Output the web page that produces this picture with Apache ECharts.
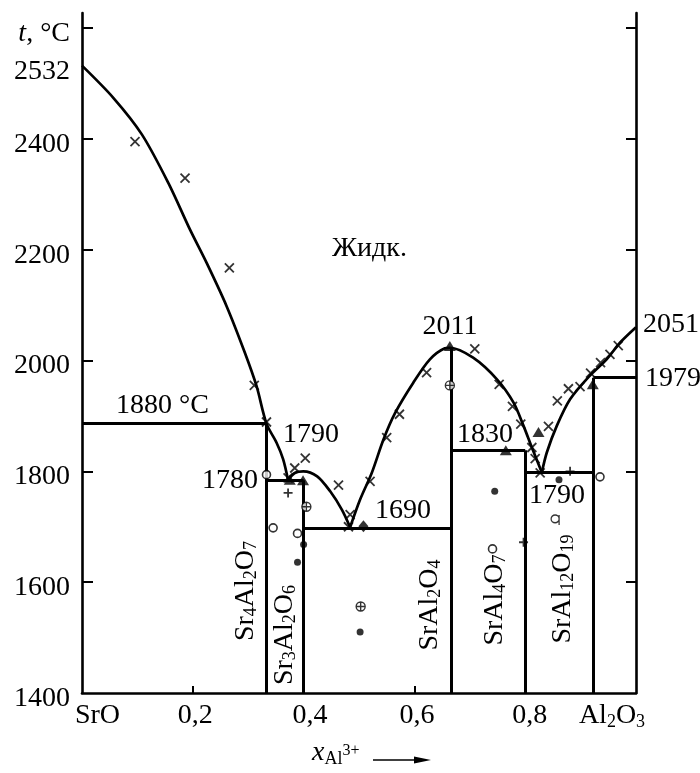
<!DOCTYPE html>
<html><head><meta charset="utf-8">
<script src="https://cdn.jsdelivr.net/npm/echarts@6/dist/echarts.min.js"></script>
<style>html,body{margin:0;padding:0;background:#fff}#c{width:700px;height:773px}</style>
</head><body><div id="c"></div>
<script>
// ---------- DATA (x = mole fraction of Al3+, t in °C) ----------
const liquidusSrO = [[0,2532],[0.0565,2474],[0.108,2408],[0.156,2320],[0.195,2236],[0.225,2176],[0.261,2098],[0.294,2014],[0.315,1954],[0.333,1886],[0.351,1852],[0.363,1822],[0.372,1784]];
const liquidusSr3Al2O6 = [[0.372,1784],[0.384,1797],[0.3995,1800],[0.4245,1791],[0.448,1764],[0.469,1731],[0.484,1699]];
const liquidusSrAl2O4 = [[0.484,1699],[0.502,1749],[0.523,1797],[0.544,1857],[0.565,1905],[0.598,1960],[0.628,2002],[0.655,2022],[0.664,2023],[0.706,2005],[0.749,1966],[0.779,1924],[0.797,1882],[0.812,1843],[0.830,1798]];
const liquidusAl2O3 = [[0.830,1798],[0.839,1834],[0.857,1882],[0.881,1930],[0.916,1972],[0.947,2002],[0.971,2032],[1.0,2060]];

// compounds: x position and top temperature of the vertical line
const compoundNames = ['Sr4Al2O7','Sr3Al2O6','SrAl2O4','SrAl4O7','SrAl12O19'];
const compoundX = [0.3333, 0.4, 0.6667, 0.8, 0.9231];
const compoundTop = [1886, 1784, 2023, 1838, 1969];
// invariant horizontals: [xFrom, xTo, t]
const isotherms = [[0,0.3333,1886],[0.3333,0.4,1784],[0.4,0.6667,1698],[0.6667,0.8,1838],[0.8,0.9231,1799],[0.9231,1,1969]];

// experimental points
const crossPts = [[0.0957,2395],[0.186,2329],[0.266,2167],[0.311,1955],[0.333,1889],[0.372,1788],[0.384,1806],[0.403,1824],[0.463,1775],[0.484,1722],[0.481,1700],[0.520,1782],[0.550,1861],[0.573,1903],[0.622,1978],[0.709,2021],[0.753,1957],[0.777,1917],[0.792,1885],[0.812,1843],[0.818,1823],[0.827,1797],[0.842,1881],[0.858,1927],[0.878,1949],[0.899,1953],[0.918,1977],[0.936,1996],[0.953,2011],[0.968,2027]];
const trianglePts = [[0.375,1785],[0.399,1784],[0.664,2026],[0.765,1838],[0.824,1871],[0.922,1957]];
const diamondPts = [[0.508,1701]];
const plusPts = [[0.372,1761],[0.797,1672],[0.881,1800]];
const dotPts = [[0.400,1668],[0.389,1636],[0.502,1510],[0.745,1764],[0.861,1785]];
const ringPts = [[0.333,1794],[0.345,1698],[0.389,1688],[0.741,1660],[0.935,1790]];
const oplusPts = [[0.405,1736],[0.503,1556],[0.664,1955]];
const ringTickPts = [[0.854,1712]];

// axis ticks / labels
const xTickValues = [0.2,0.4,0.6,0.8];
const xLabelValues = [0,0.2,0.4,0.6,0.8,1];
const xLabelTexts = ['SrO','0,2','0,4','0,6','0,8','Al2O3'];
const yTickValues = [1600,1800,2000,2200,2400,2600];
const yLabelValues = [1400,1600,1800,2000,2200,2400,2532,2600];

// ---------- CHART ----------
const FONT = 'Liberation Serif, Times New Roman, serif';
const K = '#000';
const FS = 28;
const RICH = {
  n: {fontFamily: FONT, fontSize: FS, color: K, lineHeight: 29, verticalAlign: 'top'},
  s: {fontFamily: FONT, fontSize: 18, color: K, lineHeight: 18, padding: [15,0,0,0], verticalAlign: 'bottom'},
  i: {fontFamily: FONT, fontSize: FS, fontStyle: 'italic', color: K, lineHeight: 29, verticalAlign: 'top'},
  sb: {fontFamily: FONT, fontSize: 18, color: K, lineHeight: 18, padding: [19,0,0,0], verticalAlign: 'bottom'},
  sp: {fontFamily: FONT, fontSize: 16, color: K, lineHeight: 16, padding: [4,0,0,0], verticalAlign: 'top'}
};
const YRICH = {
  n: Object.assign({}, RICH.n, {padding: [6,0,0,0]}),
  i: Object.assign({}, RICH.i, {padding: [6,0,0,0]})
};
function chem(str) {
  return str.replace(/([A-Za-z]+|\d+)/g, m => /\d/.test(m) ? '{s|' + m + '}' : '{n|' + m + '}');
}
const xLabelShift = [31, 5, 13, 5, 9, -48];

const phaseSegments = [];
isotherms.forEach(s => phaseSegments.push({coords: [[s[0], s[2]], [s[1], s[2]]]}));
compoundX.forEach((x, i) => phaseSegments.push({coords: [[x, compoundTop[i]], [x, 1400]]}));

function gText(x, y, text, align, vAlign, rotation) {
  return {type: 'text', x: x, y: y, rotation: rotation || 0, silent: true, z: 20,
    style: {text: text, fill: K, font: FS + 'px ' + FONT, align: align, verticalAlign: vAlign, rich: RICH}};
}

const xRich = Object.assign({}, RICH);
xLabelValues.forEach((v, i) => { xRich['p' + i] = {width: Math.abs(xLabelShift[i]), fontSize: 10, lineHeight: 29, verticalAlign: 'top'}; });

const chart = echarts.init(document.getElementById('c'), null, {renderer: 'canvas'});
const yAxisBase = {
  type: 'value', min: 1400, max: 2627,
  axisLine: {show: true, onZero: false, lineStyle: {color: K, width: 2.6}},
  axisTick: {show: true, inside: true, length: 11, customValues: yTickValues, lineStyle: {color: K, width: 2}},
  splitLine: {show: false}
};
const symStroke = {color: 'rgba(0,0,0,0)', borderColor: K, borderWidth: 1.8};
chart.setOption({
  animation: false,
  backgroundColor: '#fff',
  grid: {left: 82, right: 64, top: 13, bottom: 80, containLabel: false},
  xAxis: {
    type: 'value', min: 0, max: 1,
    axisLine: {show: true, onZero: false, lineStyle: {color: K, width: 2.6}},
    axisTick: {show: true, inside: true, length: 7, customValues: xTickValues, lineStyle: {color: K, width: 2}},
    splitLine: {show: false},
    axisLabel: {
      customValues: xLabelValues, margin: 9,
      formatter: function (v) {
        const i = xLabelValues.findIndex(u => Math.abs(u - v) < 1e-6);
        const t = xLabelTexts[i];
        const body = /^[A-Z]/.test(t) ? chem(t) : '{n|' + t + '}';
        const pad = '{p' + i + '| }';
        return xLabelShift[i] > 0 ? pad + body : body + pad;
      },
      rich: xRich
    }
  },
  yAxis: [
    Object.assign({}, yAxisBase, {
      position: 'left',
      axisLabel: {customValues: yLabelValues, margin: 12,
        formatter: v => v === 2600 ? '{i|t}{n|, °C}' : '{n|' + v + '}', rich: YRICH}
    }),
    Object.assign({}, yAxisBase, {position: 'right', axisTick: Object.assign({}, yAxisBase.axisTick, {length: 10}), axisLabel: {show: false}})
  ],
  series: [
    ...[liquidusSrO, liquidusSr3Al2O6, liquidusSrAl2O4, liquidusAl2O3].map(d => ({
      type: 'line', data: d, smooth: 0.3, symbol: 'none', silent: true, z: 3,
      lineStyle: {color: K, width: 2.7}
    })),
    {type: 'lines', coordinateSystem: 'cartesian2d', data: phaseSegments, silent: true, z: 4,
      lineStyle: {color: K, width: 3, opacity: 1, curveness: 0}},
    {type: 'scatter', data: crossPts, symbol: 'path://M0,0L10,10M10,0L0,10', symbolSize: 9, itemStyle: symStroke, silent: true, z: 6},
    {type: 'scatter', data: plusPts, symbol: 'path://M5,0L5,10M0,5L10,5', symbolSize: 9, itemStyle: symStroke, silent: true, z: 6},
    {type: 'scatter', data: trianglePts, symbol: 'triangle', symbolSize: [12, 10], itemStyle: {color: K}, silent: true, z: 7},
    {type: 'scatter', data: diamondPts, symbol: 'diamond', symbolSize: [10, 12], itemStyle: {color: K}, silent: true, z: 7},
    {type: 'scatter', data: dotPts, symbol: 'circle', symbolSize: 7, itemStyle: {color: K}, silent: true, z: 7},
    {type: 'scatter', data: ringPts, symbol: 'circle', symbolSize: 8, itemStyle: {color: '#fff', borderColor: K, borderWidth: 1.6}, silent: true, z: 7},
    {type: 'scatter', data: oplusPts, symbol: 'path://M0,10A10,10 0 1,0 20,10A10,10 0 1,0 0,10ZM0,10L20,10M10,0L10,20', symbolSize: 9,
      itemStyle: {color: '#fff', borderColor: K, borderWidth: 1.4}, silent: true, z: 7},
    {type: 'scatter', data: ringTickPts, symbol: 'path://M0,10A10,10 0 1,0 20,10A10,10 0 1,0 0,10ZM20,0L20,26', symbolSize: [8, 10],
      itemStyle: {color: '#fff', borderColor: K, borderWidth: 1.4}, silent: true, z: 7}
  ],
  graphic: [
    {type: 'text', x: 332, y: 249, silent: true, style: {text: 'Жидк.', fill: K, font: FS + 'px ' + FONT, align: 'left', verticalAlign: 'middle'}},
    gText(116, 406, '{n|1880 °C}', 'left', 'middle'),
    gText(311, 435, '{n|1790}', 'center', 'middle'),
    gText(258, 481, '{n|1780}', 'right', 'middle'),
    gText(403, 511, '{n|1690}', 'center', 'middle'),
    gText(450, 327, '{n|2011}', 'center', 'middle'),
    gText(485, 435, '{n|1830}', 'center', 'middle'),
    gText(557, 496, '{n|1790}', 'center', 'middle'),
    gText(643, 325, '{n|2051}', 'left', 'middle'),
    gText(645, 379, '{n|1979}', 'left', 'middle'),
    gText(246, 591, chem(compoundNames[0]), 'center', 'middle', Math.PI / 2),
    gText(285, 635, chem(compoundNames[1]), 'center', 'middle', Math.PI / 2),
    gText(430, 605, chem(compoundNames[2]), 'center', 'middle', Math.PI / 2),
    gText(495, 600, chem(compoundNames[3]), 'center', 'middle', Math.PI / 2),
    gText(563, 589, chem(compoundNames[4]), 'center', 'middle', Math.PI / 2),
    gText(312, 739, '{i|x}{sb|Al}{sp|3+}', 'left', 'top'),
    {type: 'line', silent: true, shape: {x1: 373, y1: 760, x2: 420, y2: 760}, style: {stroke: K, lineWidth: 1.6}},
    {type: 'polygon', silent: true, shape: {points: [[414, 756.5], [431, 760], [414, 763.5]]}, style: {fill: K}}
  ]
});
</script>
</body></html>
